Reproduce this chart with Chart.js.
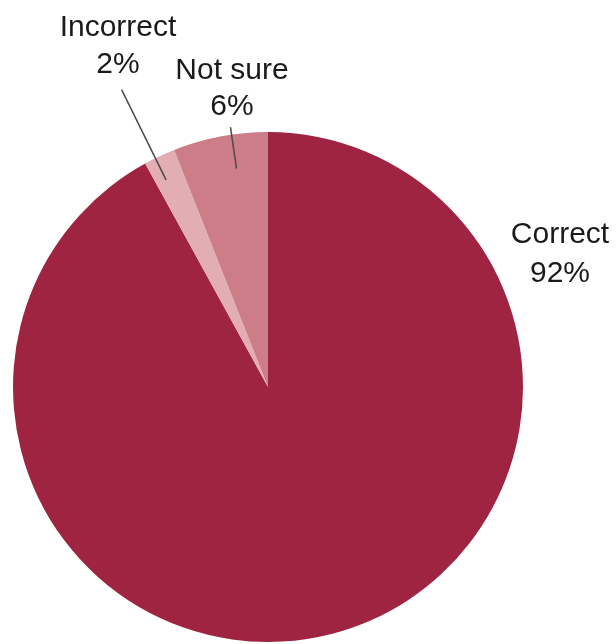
<!DOCTYPE html>
<html>
<head>
<meta charset="utf-8">
<script src="https://cdn.jsdelivr.net/npm/chart.js@4/dist/chart.umd.min.js"></script>
<style>
  html, body { margin: 0; padding: 0; background: #ffffff; }
  #wrap { width: 616px; height: 644px; position: relative; }
</style>
</head>
<body>
<div id="wrap"><canvas id="c" width="616" height="644"></canvas></div>
<script>
const categories = ["Correct", "Incorrect", "Not sure"];
const values = [92, 2, 6];
const percentLabels = ["92%", "2%", "6%"];
const sliceColors = ["#9f2441", "#e2adb3", "#cc7d87"];

// label placement (text anchor) and leader line settings per slice
const labelSpots = [
  { x: 560, y1: 243, y2: 282, line: null },
  { x: 118, y1: 36, y2: 73, line: { frac: 0.36, r0: 0.905, r1: 1.30 } },
  { x: 232, y1: 79, y2: 115, line: { frac: 0.62, r0: 0.865, r1: 1.03 } }
];

const labelPlugin = {
  id: 'pieLabels',
  afterDraw(chart) {
    const ctx = chart.ctx;
    const meta = chart.getDatasetMeta(0);
    ctx.save();
    ctx.font = '30px "Liberation Sans", Arial, sans-serif';
    ctx.fillStyle = '#1a1a1a';
    ctx.textAlign = 'center';
    ctx.textBaseline = 'alphabetic';
    meta.data.forEach((arc, i) => {
      const s = labelSpots[i];
      ctx.fillText(categories[i], s.x, s.y1);
      ctx.fillText(percentLabels[i], s.x, s.y2);
      if (s.line) {
        const a = arc.startAngle + s.line.frac * (arc.endAngle - arc.startAngle);
        const R = arc.outerRadius;
        ctx.beginPath();
        ctx.strokeStyle = '#4a4a4a';
        ctx.lineWidth = 1.5;
        ctx.moveTo(arc.x + Math.cos(a) * R * s.line.r0, arc.y + Math.sin(a) * R * s.line.r0);
        ctx.lineTo(arc.x + Math.cos(a) * R * s.line.r1, arc.y + Math.sin(a) * R * s.line.r1);
        ctx.stroke();
      }
    });
    ctx.restore();
  }
};

new Chart(document.getElementById('c'), {
  type: 'pie',
  data: {
    labels: categories,
    datasets: [{
      data: values,
      backgroundColor: sliceColors,
      borderWidth: 0
    }]
  },
  options: {
    responsive: false,
    animation: false,
    layout: { padding: { left: 13, right: 93, top: 132, bottom: 2 } },
    plugins: {
      legend: { display: false },
      tooltip: { enabled: false }
    }
  },
  plugins: [labelPlugin]
});
</script>
</body>
</html>
